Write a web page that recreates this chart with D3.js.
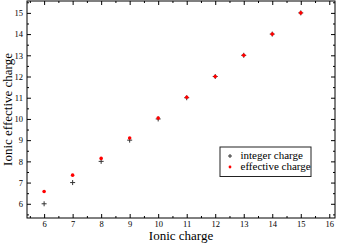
<!DOCTYPE html>
<html>
<head>
<meta charset="utf-8">
<script src="https://cdn.jsdelivr.net/npm/d3@7"></script>
<style>
  body { margin: 0; background: #fff; }
  svg { display: block; font-family: "Liberation Serif", "DejaVu Serif", serif; }
</style>
</head>
<body>
<svg id="chart" width="338" height="243"></svg>
<script>
const ionicCharge = [6, 7, 8, 9, 10, 11, 12, 13, 14, 15];
const integerCharge = [6, 7, 8, 9, 10, 11, 12, 13, 14, 15];
const effectiveCharge = [6.58, 7.35, 8.14, 9.1, 10.04, 11.02, 12.0, 13.0, 14.0, 15.0];
const xTicks = [6, 7, 8, 9, 10, 11, 12, 13, 14, 15, 16];
const yTicks = [6, 7, 8, 9, 10, 11, 12, 13, 14, 15];

const svg = d3.select('#chart');
const margin = { left: 27, right: 3, top: 1, bottom: 25 };
const width = 338, height = 243;
const serif = '"Liberation Serif", "DejaVu Serif", serif';

const x = d3.scaleLinear().domain([5.4, 16.2]).range([margin.left, width - margin.right]);
const y = d3.scaleLinear().domain([5.33, 15.56]).range([height - margin.bottom, margin.top]);

const minorX = d3.range(5.5, 16.21, 0.5).filter(v => v % 1 !== 0);
const minorY = d3.range(5.5, 15.51, 0.5).filter(v => v % 1 !== 0);

function styleAxis(g) {
  g.attr('font-family', serif);
  g.select('.domain').remove();
  g.selectAll('line').attr('stroke', '#000').attr('stroke-width', 1);
  g.selectAll('text').attr('font-size', 8.5).attr('fill', '#000');
}

// major ticks with labels
svg.append('g').attr('transform', `translate(0,${y.range()[0]})`)
  .call(d3.axisBottom(x).tickValues(xTicks).tickSizeInner(-4).tickSizeOuter(0).tickPadding(2.5))
  .call(styleAxis);
svg.append('g').attr('transform', `translate(0,${y.range()[0]})`)
  .call(d3.axisBottom(x).tickValues(minorX).tickSize(-2).tickFormat(''))
  .call(styleAxis);
svg.append('g').attr('transform', `translate(0,${y.range()[1]})`)
  .call(d3.axisTop(x).tickValues(xTicks).tickSize(-4).tickFormat(''))
  .call(styleAxis);
svg.append('g').attr('transform', `translate(0,${y.range()[1]})`)
  .call(d3.axisTop(x).tickValues(minorX).tickSize(-2).tickFormat(''))
  .call(styleAxis);

svg.append('g').attr('transform', `translate(${x.range()[0]},0)`)
  .call(d3.axisLeft(y).tickValues(yTicks).tickSizeInner(-4).tickSizeOuter(0).tickPadding(4))
  .call(styleAxis);
svg.append('g').attr('transform', `translate(${x.range()[0]},0)`)
  .call(d3.axisLeft(y).tickValues(minorY).tickSize(-2).tickFormat(''))
  .call(styleAxis);
svg.append('g').attr('transform', `translate(${x.range()[1]},0)`)
  .call(d3.axisRight(y).tickValues(yTicks).tickSize(-4).tickFormat(''))
  .call(styleAxis);
svg.append('g').attr('transform', `translate(${x.range()[1]},0)`)
  .call(d3.axisRight(y).tickValues(minorY).tickSize(-2).tickFormat(''))
  .call(styleAxis);

// frame
svg.append('rect')
  .attr('x', x.range()[0]).attr('y', y.range()[1])
  .attr('width', x.range()[1] - x.range()[0])
  .attr('height', y.range()[0] - y.range()[1])
  .attr('fill', 'none').attr('stroke', '#000').attr('stroke-width', 1);

// integer charge: plus markers
svg.append('g').selectAll('path')
  .data(ionicCharge.map((c, i) => [c, integerCharge[i]]))
  .join('path')
  .attr('d', d => {
    const px = x(d[0]), py = y(d[1]);
    return `M${px - 2.5},${py}H${px + 2.5}M${px},${py - 2.5}V${py + 2.5}`;
  })
  .attr('stroke', '#333').attr('stroke-width', 1).attr('fill', 'none');

// effective charge: red dots
svg.append('g').selectAll('circle')
  .data(ionicCharge.map((c, i) => [c, effectiveCharge[i]]))
  .join('circle')
  .attr('cx', d => x(d[0])).attr('cy', d => y(d[1]))
  .attr('r', 1.8).attr('fill', '#ff0000');

// axis titles
svg.append('text')
  .attr('x', (x.range()[0] + x.range()[1]) / 2).attr('y', 240)
  .attr('text-anchor', 'middle').attr('font-size', 13).text('Ionic charge');
svg.append('text')
  .attr('transform', `translate(12,${(y.range()[0] + y.range()[1]) / 2}) rotate(-90)`)
  .attr('text-anchor', 'middle').attr('font-size', 13).text('Ionic effective charge');

// legend
const legend = svg.append('g').attr('transform', 'translate(220,147)');
legend.append('rect').attr('width', 91).attr('height', 29.5)
  .attr('fill', '#fff').attr('stroke', '#222').attr('stroke-width', 1);
legend.append('path').attr('d', 'M8,9H12M10,7V11').attr('stroke', '#333');
legend.append('circle').attr('cx', 10).attr('cy', 20).attr('r', 1.4).attr('fill', '#ff0000');
legend.append('text').attr('x', 20.5).attr('y', 12).attr('font-size', 11).text('integer charge');
legend.append('text').attr('x', 20.5).attr('y', 23.3).attr('font-size', 11).text('effective charge');
</script>
</body>
</html>
